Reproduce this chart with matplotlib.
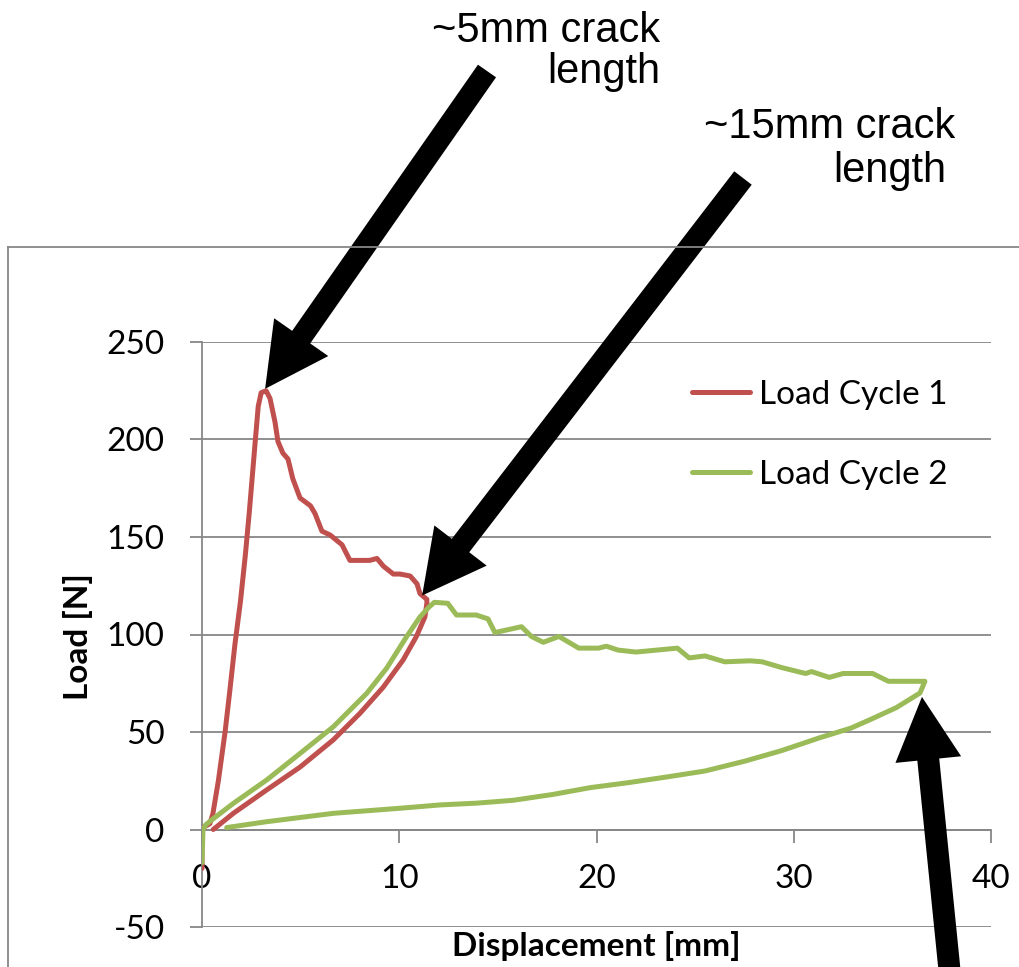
import matplotlib.pyplot as plt
from matplotlib.patches import FancyArrow
from matplotlib.lines import Line2D
from matplotlib.transforms import IdentityTransform

W, H = 1019, 967  # размер картинки в пикселях
GRAY = '#878787'
RED = '#C0504D'
GREEN = '#9BBB59'

# цикл нагружения 1: нагрузка -> пик -> рост трещины -> разгрузка
cycle1_x = [0, 0, 0.05, 0.4, 0.55, 0.83, 1.17, 1.42, 1.67, 1.95, 2.2, 2.4, 2.69, 2.85,
            3.0, 3.25, 3.45, 3.7, 3.85, 4.1, 4.36, 4.6, 4.97, 5.5, 5.73, 6.08, 6.5, 7.1,
            7.35, 7.5, 8.5, 8.87, 9.2, 9.7, 10.04, 10.55, 10.9, 11.05, 11.4, 11.4, 11.3,
            10.87, 10.2, 9.19, 8.01, 6.66, 4.97, 3.28, 1.59, 0.57]
cycle1_y = [-20, -2, 1, 3, 8, 25, 50, 72, 95, 117, 141, 163, 198, 217,
            224, 225, 221, 209, 199, 193, 190, 180, 170, 166, 162, 153, 151, 146,
            141, 138, 138, 139, 135, 131, 131, 130, 126, 121, 118, 116, 109,
            99, 87, 73, 59.6, 46, 32, 20.3, 8.3, 0]

# цикл нагружения 2
cycle2_x = [0, 0.05, 0.2, 0.49, 1.59, 3.28, 4.97, 6.66, 8.35, 9.36, 10.38, 11.05, 11.5,
            11.78, 12.46, 12.9, 13.9, 14.5, 14.85, 16.2, 16.7, 17.3, 18.1, 19.1, 20.1,
            20.5, 21.1, 22.0, 24.1, 24.7, 25.5, 26.5, 27.8, 28.4, 29.4, 30.6, 30.9, 31.8,
            32.5, 34.0, 34.8, 36.65, 36.4, 35.2, 33.8, 32.9, 31.3, 29.4, 27.5, 25.5,
            23.6, 21.6, 19.7, 17.8, 15.8, 13.9, 12.07, 10.04, 6.66, 3.28, 1.25]
cycle2_y = [-17, 0, 2.5, 4.9, 13.4, 25.4, 39, 52.7, 69.8, 82.7, 99, 109, 114,
            116.5, 116, 110, 110, 108, 101, 104, 99, 96, 99, 93, 93,
            94, 92, 91, 93, 88, 89, 86, 86.5, 86, 83, 80, 81, 78,
            80, 80, 76, 76, 70, 62.5, 56, 52, 47, 40.5, 35, 30,
            27, 24, 21.5, 18, 15, 13.5, 12.6, 10.9, 8.3, 4, 1]

x_ticks = [0, 10, 20, 30, 40]
y_ticks = [-50, 0, 50, 100, 150, 200, 250]
series_labels = ['Load Cycle 1', 'Load Cycle 2']

# подписи над стрелками: текст, правый край (px), базовая линия (px)
notes = [('~5mm crack', 660, 42), ('length', 660, 83),
         ('~15mm crack', 955, 138), ('length', 946, 182)]
# стрелки: хвост в пикселях картинки, острие в координатах данных
arrows = [((487, 71), (3.2, 226)),
          ((743, 178), (11.16, 120)),
          ((952, 995), (36.5, 68))]

plt.rcParams['font.family'] = ['Lato', 'DejaVu Sans']
plt.rcParams['axes.unicode_minus'] = False

fig = plt.figure(figsize=(W / 100, H / 100), dpi=100)
ax = fig.add_axes([202 / W, 1 - 927 / H, 789 / W, 585 / H])

ax.plot(cycle1_x, cycle1_y, color=RED, lw=3.6, solid_joinstyle='round',
        solid_capstyle='round', label=series_labels[0], zorder=3)
ax.plot(cycle2_x, cycle2_y, color=GREEN, lw=3.6, solid_joinstyle='round',
        solid_capstyle='round', label=series_labels[1], zorder=3)

ax.set_xlim(0, 40)
ax.set_ylim(-50, 250)
ax.set_xticks(x_ticks)
ax.set_yticks(y_ticks)
ax.spines['top'].set_visible(False)
ax.spines['right'].set_visible(False)
ax.spines['bottom'].set_position(('data', 0))
for s in ['left', 'bottom']:
    ax.spines[s].set_color(GRAY)
    ax.spines[s].set_linewidth(1.3)
ax.grid(axis='y', color=GRAY, lw=1.3)
ax.set_axisbelow(True)
ax.tick_params(axis='both', direction='out', length=9, width=1.3, color=GRAY,
               labelsize=24)
ax.tick_params(axis='y', pad=18)
ax.tick_params(axis='x', pad=16)

ax.text(0.5, -0.032, 'Displacement [mm]', transform=ax.transAxes, ha='center',
        va='center', fontsize=24, fontweight='bold', clip_on=False)
ax.text(-0.157, 0.497, 'Load [N]', transform=ax.transAxes, ha='center',
        va='center', rotation=90, fontsize=24, fontweight='bold', clip_on=False)

ax.legend(frameon=False, loc='center left', bbox_to_anchor=(692 / W, 1 - 435 / H),
          bbox_transform=fig.transFigure, fontsize=24, handlelength=1.75,
          handletextpad=0.25, labelspacing=1.5, borderpad=0, borderaxespad=0)

# рамка области диаграммы
fig.add_artist(Line2D([8, 8], [H - 247, -10], color=GRAY, lw=1.3,
                      transform=IdentityTransform()))
fig.add_artist(Line2D([8, W + 10], [H - 247, H - 247], color=GRAY, lw=1.3,
                      transform=IdentityTransform()))

for txt, xr, yb in notes:
    fig.text(xr / W, 1 - yb / H, txt, ha='right', va='baseline',
             family='Liberation Sans', fontsize=30)

for tail, tip in arrows:
    tx, ty = tail[0], H - tail[1]
    hx, hy = ax.transData.transform(tip)
    fig.add_artist(FancyArrow(tx, ty, hx - tx, hy - ty, width=22, head_width=66,
                              head_length=63, length_includes_head=True,
                              color='black', lw=0, transform=IdentityTransform()))

fig.savefig('out.png', dpi=100)
